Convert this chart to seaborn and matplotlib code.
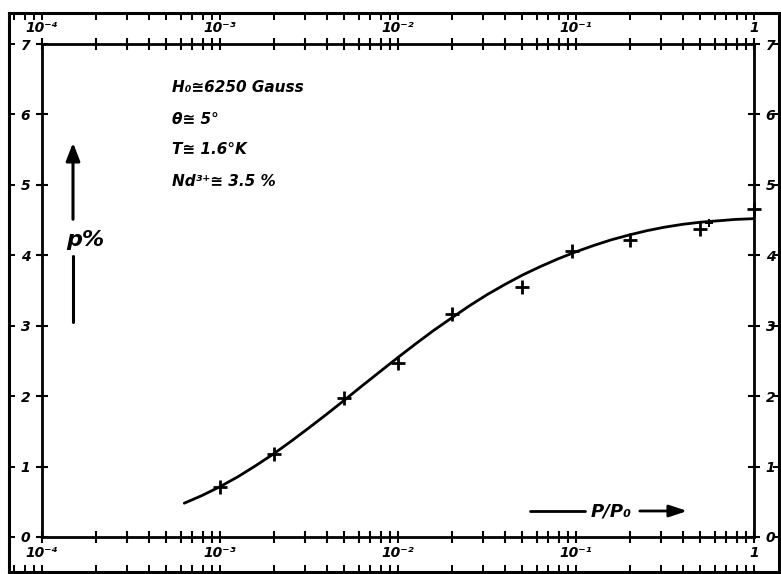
import numpy as np
import pandas as pd
import matplotlib
matplotlib.use("Agg")
import matplotlib.pyplot as plt
from matplotlib.ticker import LogLocator, FixedLocator, NullFormatter, FixedFormatter
import seaborn as sns

# ---------------- data ----------------
curve_x = [6.3e-4, 7.94e-4, 1e-3, 1.26e-3, 1.58e-3, 2e-3, 2.51e-3, 3.16e-3,
           3.98e-3, 5.01e-3, 6.31e-3, 7.94e-3, 1e-2, 1.26e-2, 1.58e-2, 2e-2,
           2.51e-2, 3.16e-2, 3.98e-2, 5.01e-2, 6.31e-2, 7.94e-2, 0.1, 0.126,
           0.158, 0.2, 0.251, 0.316, 0.398, 0.501, 0.631, 0.794, 1.0]
curve_y = [0.48, 0.59, 0.715, 0.855, 1.01, 1.18, 1.36, 1.55,
           1.745, 1.945, 2.15, 2.35, 2.55, 2.745, 2.93, 3.11,
           3.28, 3.44, 3.585, 3.72, 3.84, 3.95, 4.05, 4.14,
           4.22, 4.29, 4.35, 4.40, 4.44, 4.47, 4.49, 4.51, 4.52]

pts_x = [1e-3, 2e-3, 5e-3, 1e-2, 2e-2, 5e-2, 0.095, 0.2, 0.5, 1.0]
pts_y = [0.71, 1.18, 1.97, 2.47, 3.17, 3.55, 4.06, 4.22, 4.37, 4.66]

small_x = [0.56]
small_y = [4.46]

x_major = [1e-4, 1e-3, 1e-2, 1e-1, 1.0]
x_labels = ["10⁻⁴", "10⁻³", "10⁻²", "10⁻¹", "1"]
y_ticks = [0, 1, 2, 3, 4, 5, 6, 7]
y_labels = ["0", "1", "2", "3", "4", "5", "6", "7"]

annot_lines = ["H₀≅6250 Gauss", "θ≅ 5°", "T≅ 1.6°K", "Nd³⁺≅ 3.5 %"]

# ---------------- style ----------------
sns.set_theme(style="white")
plt.rcParams["font.family"] = ["DejaVu Sans"]
plt.rcParams["text.color"] = "black"
plt.rcParams["xtick.labelcolor"] = "black"
plt.rcParams["ytick.labelcolor"] = "black"
plt.rcParams["xtick.color"] = "black"
plt.rcParams["ytick.color"] = "black"

W, H = 781, 574
fig = plt.figure(figsize=(W / 100, H / 100), dpi=100)
fig.patch.set_facecolor("white")

# inner axes pixel box
il, ir, it, ib = 42, 754, 44, 537
# outer frame pixel box
ol, orr, ot, ob = 9, 779, 13, 572

def frac(l, r, t, b):
    return [l / W, 1 - b / H, (r - l) / W, (b - t) / H]

dec_per_px = 4.0 / (ir - il)
unit_per_px = 7.0 / (ib - it)

# outer frame axes
axo = fig.add_axes(frac(ol, orr, ot, ob))
axo.set_xscale("log")
axo.set_xlim(10 ** (-4 - (il - ol) * dec_per_px), 10 ** (0 + (orr - ir) * dec_per_px))
axo.set_ylim(0 - (ob - ib) * unit_per_px, 7 + (it - ot) * unit_per_px)
axo.patch.set_alpha(0)
for s in axo.spines.values():
    s.set_linewidth(2.2)
    s.set_color("black")
axo.xaxis.set_major_locator(FixedLocator(x_major))
axo.xaxis.set_minor_locator(LogLocator(base=10, subs=np.arange(2, 10)))
axo.xaxis.set_major_formatter(NullFormatter())
axo.xaxis.set_minor_formatter(NullFormatter())
axo.yaxis.set_major_locator(FixedLocator(y_ticks))
axo.yaxis.set_major_formatter(NullFormatter())
axo.tick_params(axis="x", which="both", direction="in", top=True, bottom=True,
                length=5, width=1.4, color="black")
axo.tick_params(axis="y", which="both", direction="in", left=True, right=True,
                length=4, width=1.4, color="black")

# inner axes
ax = fig.add_axes(frac(il, ir, it, ib))
ax.patch.set_alpha(0)

sns.lineplot(x=curve_x, y=curve_y, ax=ax, color="black", linewidth=2.0, sort=False)
sns.scatterplot(x=pts_x, y=pts_y, ax=ax, marker="+", s=110, color="black",
                linewidth=2.0, zorder=5, clip_on=False)
sns.scatterplot(x=small_x, y=small_y, ax=ax, marker="+", s=35, color="black",
                linewidth=1.4, zorder=5)

ax.set_xscale("log")
ax.set_xlim(1e-4, 1.0)
ax.set_ylim(0, 7)
for s in ax.spines.values():
    s.set_linewidth(2.0)
    s.set_color("black")
ax.xaxis.set_major_locator(FixedLocator(x_major))
ax.xaxis.set_major_formatter(FixedFormatter(x_labels))
ax.xaxis.set_minor_locator(LogLocator(base=10, subs=np.arange(2, 10)))
ax.xaxis.set_minor_formatter(NullFormatter())
ax.yaxis.set_major_locator(FixedLocator(y_ticks))
ax.yaxis.set_major_formatter(FixedFormatter(y_labels))
ax.tick_params(axis="x", which="both", direction="inout", top=True, bottom=True,
               labeltop=True, labelbottom=True, length=9, width=1.5, color="black",
               pad=2, labelsize=10, labelcolor="black")
ax.tick_params(axis="y", which="major", direction="inout", left=True, right=True,
               labelleft=True, labelright=True, length=9, width=1.5, color="black",
               pad=4, labelsize=10, labelcolor="black")
for lab in ax.get_xticklabels() + ax.get_yticklabels():
    lab.set_fontweight("bold")
    lab.set_fontstyle("italic")
ax.set_xlabel("")
ax.set_ylabel("")
ax.grid(False)

# annotation block
tx = (172 - il) / (ir - il)
for i, line in enumerate(annot_lines):
    ty = (ib - (88 + i * 31)) / (ib - it)
    ax.text(tx, ty, line, transform=ax.transAxes, fontsize=11, fontweight="bold",
            fontstyle="italic", va="center", ha="left", color="black")

# vertical p% arrow
def ya(py):
    return (ib - py) / (ib - it)
def xa(px):
    return (px - il) / (ir - il)

ax.annotate("", xy=(xa(73), ya(140)), xytext=(xa(73), ya(222)),
            xycoords="axes fraction", textcoords="axes fraction",
            arrowprops=dict(arrowstyle="-|>,head_length=0.9,head_width=0.35",
                            color="black", lw=2.2))
ax.text(xa(66), ya(240), "p%", transform=ax.transAxes, fontsize=16,
        fontweight="bold", fontstyle="italic", va="center", ha="left", color="black")
ax.plot([xa(73), xa(73)], [ya(256), ya(322)], transform=ax.transAxes,
        color="black", lw=2.2)

# horizontal P/P0 arrow
ax.plot([xa(530), xa(585)], [ya(511), ya(511)], transform=ax.transAxes,
        color="black", lw=2.0)
ax.text(xa(611), ya(511), "P/P₀", transform=ax.transAxes, fontsize=13,
        fontweight="bold", fontstyle="italic", va="center", ha="center", color="black")
ax.annotate("", xy=(xa(690), ya(511)), xytext=(xa(637), ya(511)),
            xycoords="axes fraction", textcoords="axes fraction",
            arrowprops=dict(arrowstyle="-|>,head_length=0.9,head_width=0.3",
                            color="black", lw=2.0))

fig.savefig("out.png", dpi=100, facecolor="white")
